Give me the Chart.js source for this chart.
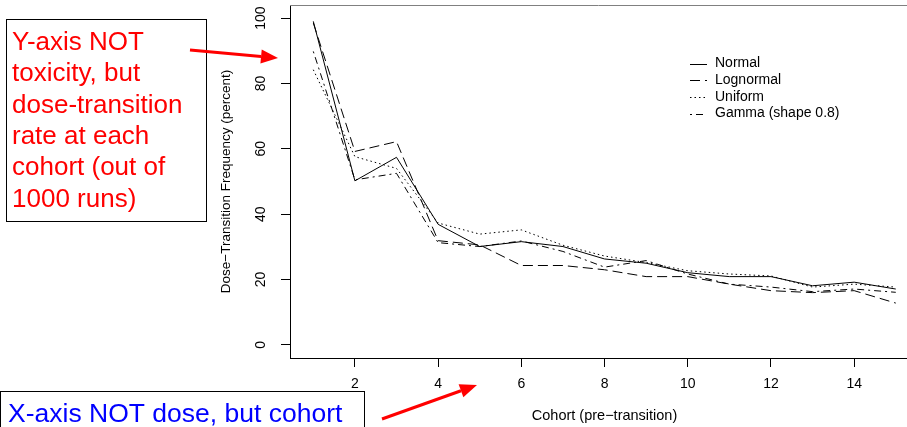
<!DOCTYPE html>
<html>
<head>
<meta charset="utf-8">
<script src="https://cdn.jsdelivr.net/npm/chart.js@4.4.0/dist/chart.umd.min.js"></script>
<style>
  body { margin: 0; background: #fff; }
  #wrap { width: 907px; height: 427px; }
</style>
</head>
<body>
<div id="wrap"><canvas id="doseChart" width="907" height="427"></canvas></div>
<script>
// Data
const cohorts = [1, 2, 3, 4, 5, 6, 7, 8, 9, 10, 11, 12, 13, 14, 15];
const normal    = [99, 50.2, 57.4, 36.9, 30.1, 31.6, 30.1, 26.3, 25.0, 22.1, 20.9, 20.9, 18.1, 19.2, 17.1];
const lognormal = [98.5, 59.2, 62.2, 31.9, 30.6, 24.3, 24.3, 23.0, 20.9, 20.9, 18.6, 16.6, 16.0, 16.6, 12.8];
const uniform   = [84.2, 57.6, 54.0, 37.3, 33.9, 35.2, 30.5, 27.2, 25.2, 22.7, 21.7, 21.1, 17.7, 18.6, 17.7];
const gamma     = [89.8, 50.5, 52.5, 31.3, 30.1, 31.8, 28.6, 23.8, 25.8, 21.7, 18.6, 17.7, 16.3, 17.1, 16.1];

const xTicks = [2, 4, 6, 8, 10, 12, 14];
const yTicks = [0, 20, 40, 60, 80, 100];
const seriesNames = ['Normal', 'Lognormal', 'Uniform', 'Gamma (shape 0.8)'];

const FONT = '"Liberation Sans", Arial, Helvetica, sans-serif';

function toPoints(values) {
    return cohorts.map((c, i) => ({ x: c, y: values[i] }));
}

const dashes = [[], [10, 5], [1.5, 3], [2, 4, 7, 4]];

// Axis labels, legend and the notes drawn on top
const extrasPlugin = {
    id: 'extras',
    beforeDraw(chart) {
        const ctx = chart.ctx;
        ctx.save();
        ctx.fillStyle = '#fff';
        ctx.fillRect(0, 0, chart.width, chart.height);
        ctx.restore();
    },
    afterDraw(chart) {
        const ctx = chart.ctx;
        const xs = chart.scales.x, ys = chart.scales.y;
        const area = chart.chartArea;
        ctx.save();

        // top edge of the box
        ctx.strokeStyle = '#808080';
        ctx.lineWidth = 1;
        ctx.beginPath();
        ctx.moveTo(area.left, area.top + 0.5);
        ctx.lineTo(area.right, area.top + 0.5);
        ctx.stroke();

        ctx.fillStyle = '#000';
        ctx.font = '14px ' + FONT;
        ctx.textAlign = 'center';
        ctx.textBaseline = 'middle';
        xTicks.forEach(v => ctx.fillText(String(v), xs.getPixelForValue(v), 384));

        yTicks.forEach(v => {
            ctx.save();
            ctx.translate(261, ys.getPixelForValue(v));
            ctx.rotate(-Math.PI / 2);
            ctx.fillText(String(v), 0, 0);
            ctx.restore();
        });

        ctx.font = '14.5px ' + FONT;
        ctx.fillText('Cohort (pre\u2212transition)', xs.getPixelForValue(8), 416);

        ctx.save();
        ctx.font = '13.5px ' + FONT;
        ctx.translate(226, ys.getPixelForValue(50));
        ctx.rotate(-Math.PI / 2);
        ctx.fillText('Dose\u2212Transition Frequency (percent)', 0, 0);
        ctx.restore();

        // legend
        ctx.font = '14px ' + FONT;
        ctx.textAlign = 'left';
        seriesNames.forEach((name, i) => {
            const y = 63.5 + i * 16.7;
            ctx.setLineDash(dashes[i]);
            ctx.strokeStyle = '#000';
            ctx.lineWidth = 1;
            ctx.beginPath();
            ctx.moveTo(690, Math.round(y) + 0.5);
            ctx.lineTo(707, Math.round(y) + 0.5);
            ctx.stroke();
            ctx.setLineDash([]);
            ctx.fillText(name, 715, y);
        });

        // red note, top left
        ctx.fillStyle = '#fff';
        ctx.fillRect(6.5, 19.5, 200, 202);
        ctx.strokeStyle = '#000';
        ctx.strokeRect(6.5, 19.5, 200, 202);
        ctx.fillStyle = '#ff0000';
        ctx.font = '26px ' + FONT;
        ctx.textBaseline = 'alphabetic';
        const noteLines = ['Y-axis NOT', 'toxicity, but', 'dose-transition', 'rate at each', 'cohort (out of', '1000 runs)'];
        noteLines.forEach((t, i) => ctx.fillText(t, 12, 50 + i * 31.3));

        // blue note, bottom left
        ctx.fillStyle = '#fff';
        ctx.fillRect(0.5, 391.5, 364, 40);
        ctx.strokeStyle = '#000';
        ctx.strokeRect(0.5, 391.5, 364, 40);
        ctx.fillStyle = '#0000ff';
        ctx.font = '26.5px ' + FONT;
        ctx.fillText('X-axis NOT dose, but cohort', 8, 422);

        // arrows
        drawArrow(ctx, 190, 50, 278, 58);
        drawArrow(ctx, 382, 419, 477, 385);

        ctx.restore();
    }
};

function drawArrow(ctx, x1, y1, x2, y2) {
    const ang = Math.atan2(y2 - y1, x2 - x1);
    const len = 17, half = 7;
    const bx = x2 - len * Math.cos(ang), by = y2 - len * Math.sin(ang);
    ctx.strokeStyle = '#ff0000';
    ctx.fillStyle = '#ff0000';
    ctx.lineWidth = 3;
    ctx.beginPath();
    ctx.moveTo(x1, y1);
    ctx.lineTo(bx, by);
    ctx.stroke();
    ctx.beginPath();
    ctx.moveTo(x2, y2);
    ctx.lineTo(bx + half * Math.sin(ang), by - half * Math.cos(ang));
    ctx.lineTo(bx - half * Math.sin(ang), by + half * Math.cos(ang));
    ctx.closePath();
    ctx.fill();
}

const allSeries = [normal, lognormal, uniform, gamma];

new Chart(document.getElementById('doseChart').getContext('2d'), {
    type: 'line',
    data: {
        datasets: allSeries.map((vals, i) => ({
            label: seriesNames[i],
            data: toPoints(vals),
            borderColor: '#000',
            borderWidth: 1,
            borderDash: dashes[i],
            pointRadius: 0,
            tension: 0,
            fill: false
        }))
    },
    options: {
        responsive: false,
        animation: false,
        devicePixelRatio: 1,
        layout: { padding: { top: 5, left: 0, right: 0, bottom: 0 } },
        plugins: {
            legend: { display: false },
            tooltip: { enabled: false }
        },
        scales: {
            x: {
                type: 'linear',
                min: 0.44,
                max: 15.27,
                afterBuildTicks: s => { s.ticks = xTicks.map(v => ({ value: v })); },
                afterFit: s => { s.height = 69; },
                grid: { drawOnChartArea: false, drawTicks: true, tickLength: 9, color: '#000' },
                border: { color: '#000', width: 1 },
                ticks: { display: false }
            },
            y: {
                type: 'linear',
                min: -4,
                max: 104,
                afterBuildTicks: s => { s.ticks = yTicks.map(v => ({ value: v })); },
                afterFit: s => { s.width = 290; },
                grid: { drawOnChartArea: false, drawTicks: true, tickLength: 9, color: '#000' },
                border: { color: '#000', width: 1 },
                ticks: { display: false }
            }
        }
    },
    plugins: [extrasPlugin]
});
</script>
</body>
</html>
